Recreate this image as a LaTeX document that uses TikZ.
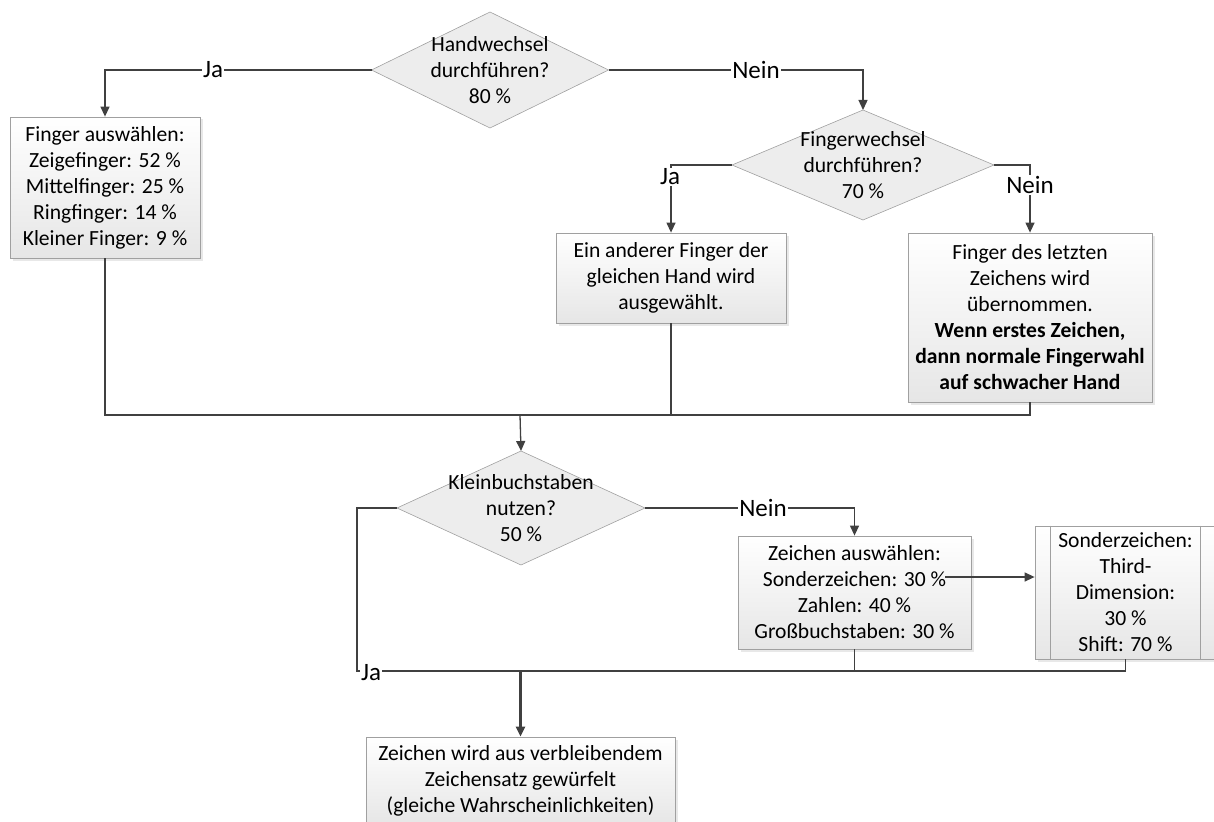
\documentclass[tikz,border=0pt]{standalone}
\usepackage{fontspec}
\setmainfont{Carlito}
\usetikzlibrary{arrows.meta,shapes.geometric,shadows}
\definecolor{ln}{HTML}{404040}
\definecolor{bd}{HTML}{A0A0A0}
\definecolor{dfill}{HTML}{EDEDED}
\definecolor{bbot}{HTML}{E6E6E6}
\begin{document}
\begin{tikzpicture}[x=1pt,y=-1pt,
 font=\fontsize{21.6}{26}\selectfont,
 box/.style={draw=bd, line width=0.8pt, top color=white, bottom color=bbot, align=center, inner sep=2pt,
   drop shadow={shadow xshift=2.5pt,shadow yshift=-2.5pt,opacity=0.18,fill=gray}},
 dia/.style={diamond, draw=bd, line width=0.6pt, fill=dfill, inner sep=0pt, outer sep=0pt},
 dtext/.style={align=center, inner sep=0pt},
 conn/.style={draw=ln, line width=1.3pt},
 arr/.style={conn, -{Triangle[length=10pt,width=9pt]}},
 lbl/.style={fill=white, inner sep=1.2pt, font=\fontsize{25}{28}\selectfont},
]
\useasboundingbox (0,0) rectangle (1214,821);

% decisions
\node[dia, minimum width=237pt, minimum height=116pt] (d1) at (490,70) {};
\node[dtext] at (d1) {Handwechsel\\durchführen?\\80 \%};
\node[dia, minimum width=262pt, minimum height=110pt] (d2) at (863,165) {};
\node[dtext] at (d2) {Fingerwechsel\\durchführen?\\70 \%};
\node[dia, minimum width=248pt, minimum height=114pt] (d3) at (521,508) {};
\node[dtext] at (d3) {Kleinbuchstaben\\nutzen?\\50 \%};

% boxes
\node[box, minimum width=190pt, minimum height=141pt] (lb) at (105,187.5)
  {Finger auswählen:\\Zeigefinger: 52 \%\\Mittelfinger: 25 \%\\Ringfinger: 14 \%\\Kleiner Finger: 9 \%};
\node[box, minimum width=230pt, minimum height=90pt] (mb) at (671,278)
  {Ein anderer Finger der\\gleichen Hand wird\\ausgewählt.};
\node[box, minimum width=244pt, minimum height=169pt] (rb) at (1030,317.5)
  {Finger des letzten\\Zeichens wird\\übernommen.\\\textbf{Wenn erstes Zeichen,}\\\textbf{dann normale Fingerwahl}\\\textbf{auf schwacher Hand}};
\node[box, minimum width=233pt, minimum height=113pt] (zb) at (854.5,592.5)
  {Zeichen auswählen:\\Sonderzeichen: 30 \%\\Zahlen: 40 \%\\Großbuchstaben: 30 \%};
\node[box, minimum width=181pt, minimum height=133pt] (sb) at (1125.5,592.5)
  {Sonderzeichen:\\Third-\\Dimension:\\30 \%\\Shift: 70 \%};
\draw[draw=bd, line width=0.8pt] ([xshift=16pt]sb.north west) -- ([xshift=16pt]sb.south west);
\draw[draw=bd, line width=0.8pt] ([xshift=-16pt]sb.north east) -- ([xshift=-16pt]sb.south east);
\node[box, minimum width=309pt, minimum height=88pt] (bb) at (520.5,781)
  {Zeichen wird aus verbleibendem\\Zeichensatz gewürfelt\\(gleiche Wahrscheinlichkeiten)};

% connectors
\draw[arr] (d1.west) -| (lb.north);
\draw[arr] (d1.east) -| (d2.north);
\draw[arr] (d2.west) -| (mb.north);
\draw[arr] (d2.east) -| (rb.north);

\coordinate (m1) at (520,415);
\draw[conn] (lb.south) |- (m1) -| (rb.south);
\draw[conn] (mb.south) -- (mb.south |- m1);
\draw[arr] (m1) -- (d3.north);

\coordinate (jb) at (357,671);
\draw[conn] (d3.west) -| (jb) -| (sb.south);
\draw[conn] (zb.south) -- (zb.south |- jb);
\draw[arr, line width=2.5pt] (jb -| bb.north) -- (bb.north);
\draw[arr] (d3.east) -| (zb.north);
\coordinate (zs) at (945,577);
\draw[arr] (zs) -- (zs -| sb.west);

% labels
\node[lbl] at (213,70) {Ja};
\node[lbl] at (756,70) {Nein};
\node[lbl] at (670,177) {Ja};
\node[lbl] at (1030,185) {Nein};
\node[lbl] at (371,673) {Ja};
\node[lbl] at (763,508) {Nein};
\end{tikzpicture}
\end{document}
